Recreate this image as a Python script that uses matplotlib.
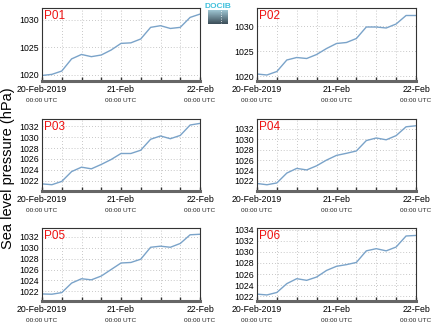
import matplotlib
matplotlib.use("Agg")
import matplotlib.pyplot as plt
import numpy as np

plt.rcParams['font.family'] = ['Liberation Sans', 'DejaVu Sans']

# hours since 20-Feb-2019 00:00 UTC, 3-hourly
hours = [0, 3, 6, 9, 12, 15, 18, 21, 24, 27, 30, 33, 36, 39, 42, 45, 48]

p01 = [1019.9, 1020.1, 1020.7, 1022.9, 1023.7, 1023.3, 1023.6, 1024.5, 1025.7,
       1025.8, 1026.5, 1028.6, 1028.9, 1028.4, 1028.6, 1030.4, 1031.0]
p02 = [1020.5, 1020.3, 1021.0, 1023.3, 1023.8, 1023.6, 1024.4, 1025.6, 1026.6,
       1026.8, 1027.6, 1029.9, 1029.9, 1029.7, 1030.5, 1032.2, 1032.2]
p03 = [1021.45, 1021.3, 1021.9, 1023.7, 1024.5, 1024.2, 1025.0, 1025.9, 1027.0,
       1027.0, 1027.6, 1029.6, 1030.2, 1029.7, 1030.3, 1032.2, 1032.5]
p04 = [1021.5, 1021.25, 1021.6, 1023.5, 1024.4, 1024.1, 1024.9, 1026.0, 1026.9,
       1027.3, 1027.75, 1029.75, 1030.25, 1029.9, 1030.7, 1032.4, 1032.6]
p05 = [1021.5, 1021.45, 1021.75, 1023.5, 1024.3, 1024.1, 1024.8, 1026.0, 1027.2,
       1027.3, 1027.9, 1030.1, 1030.3, 1030.1, 1030.8, 1032.4, 1032.5]
p06 = [1022.35, 1022.2, 1022.65, 1024.25, 1025.15, 1024.85, 1025.45, 1026.65, 1027.4,
       1027.7, 1028.1, 1030.2, 1030.6, 1030.2, 1030.9, 1032.9, 1033.0]

names = ['P01', 'P02', 'P03', 'P04', 'P05', 'P06']
series = [p01, p02, p03, p04, p05, p06]
ylims = [(1018.9, 1032.1), (1019.1, 1033.7), (1020.15, 1033.3),
         (1020.05, 1033.9), (1020.2, 1033.65), (1021.1, 1034.35)]
yticks = [[1020, 1025, 1030], [1020, 1025, 1030],
          [1022, 1024, 1026, 1028, 1030, 1032], [1022, 1024, 1026, 1028, 1030, 1032],
          [1022, 1024, 1026, 1028, 1030, 1032], [1022, 1024, 1026, 1028, 1030, 1032, 1034]]

day_ticks = [0, 24, 48]
day_labels = ['20-Feb-2019', '21-Feb', '22-Feb']
time_label = '00:00 UTC'

W, H = 434, 327
fig = plt.figure(figsize=(W / 100, H / 100), dpi=100)

cols = [(42, 200), (257, 416)]
rows = [(8, 81), (119, 191), (228, 301)]

for i, (name, vals) in enumerate(zip(names, series)):
    x0, x1 = cols[i % 2]
    t0, t1 = rows[i // 2]
    ax = fig.add_axes([x0 / W, (H - t1) / H, (x1 - x0) / W, (t1 - t0) / H])
    ax.plot(hours, vals, color='#7aa3c9', lw=1.0)
    ax.set_xlim(0, 48)
    ax.set_ylim(*ylims[i])
    ax.set_yticks(yticks[i])
    ax.set_xticks(day_ticks)
    ax.set_xticklabels(day_labels)
    ax.set_xticks(range(6, 48, 6), minor=True)
    ax.grid(True, which='both', color='#b5b5b5', lw=0.6, ls=(0, (1, 2.5)))
    ax.tick_params(axis='x', which='both', direction='in', length=3, width=1,
                   color='#333333', labelsize=6.3, pad=3)
    ax.tick_params(axis='y', direction='in', length=0, labelsize=6.3, pad=2)
    for s in ax.spines.values():
        s.set_color('#333333')
        s.set_linewidth(0.8)
    ax.spines['bottom'].set_color('#666666')
    ax.spines['bottom'].set_linewidth(2.2)
    ax.text(0.015, 0.97, name, transform=ax.transAxes, color='#ee1111',
            fontsize=8.5, ha='left', va='top')
    for d in day_ticks:
        ax.text(d, -0.27, time_label, transform=ax.get_xaxis_transform(),
                fontsize=4.6, ha='center', va='center', color='#222222')

fig.text(8 / W, 1 - 168 / H, 'Sea level pressure (hPa)', rotation=90,
         ha='center', va='center', fontsize=10.5)

# small logo at top centre
lax = fig.add_axes([208 / W, (H - 24) / H, 20 / W, 14 / H])
grad = np.linspace(0, 1, 20).reshape(-1, 1)
lax.imshow(grad, aspect='auto', cmap=matplotlib.colors.LinearSegmentedColormap.from_list(
    'lg', ['#9cc3d0', '#3d4f5a']))
lax.axvline(12.5 / 20 * 1 - 0.5 + 0.0, color='white', lw=0.6, ls=(0, (1, 2)))
lax.axis('off')
fig.text(218 / W, 1 - 6 / H, 'DOCIB', color='#3fc0dc', fontsize=6, ha='center', va='center',
         fontweight='bold')

fig.savefig('out.png', dpi=100)
